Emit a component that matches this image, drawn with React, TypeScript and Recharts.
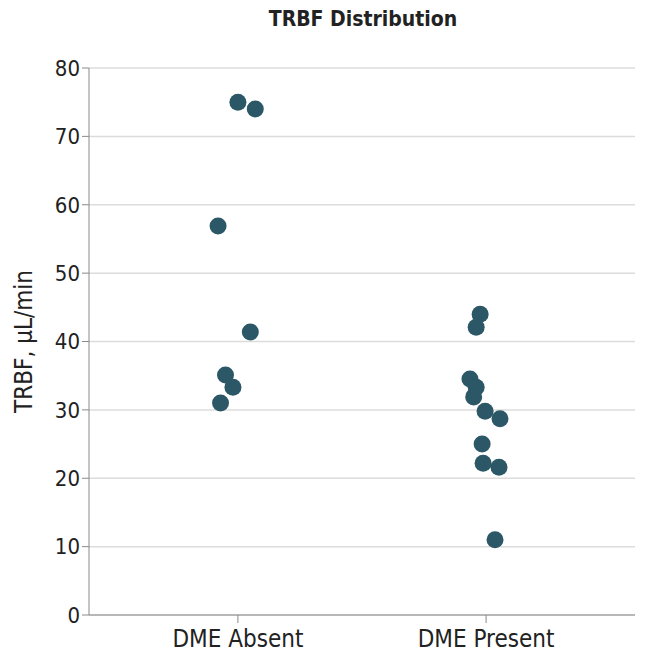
import { ScatterChart, Scatter, XAxis, YAxis, CartesianGrid } from 'recharts'

// group positions on the x axis (1 = DME Absent, 2 = DME Present), jitter
const GROUPS = ['DME Absent', 'DME Present']

const absentX = [1.0, 1.07, 0.92, 1.05, 0.95, 0.98, 0.93]
const absentY = [75.0, 74.0, 56.9, 41.4, 35.1, 33.3, 31.0]

const presentX = [1.976, 1.96, 1.935, 1.96, 1.95, 1.996, 2.056, 1.984, 1.988, 2.052, 2.036]
const presentY = [44.0, 42.1, 34.5, 33.3, 31.9, 29.8, 28.7, 25.0, 22.2, 21.6, 11.0]

const Y_TICKS = [0, 10, 20, 30, 40, 50, 60, 70, 80]

const DOT_COLOR = '#2c5766'
const FONT = '"DejaVu Sans Condensed", "Liberation Sans Narrow", "DejaVu Sans", sans-serif'

const toPoints = (xs: number[], ys: number[]) => xs.map((x, i) => ({ x, y: ys[i] }))

const data = [...toPoints(absentX, absentY), ...toPoints(presentX, presentY)]

const Dot = (p: any) => <circle cx={p.cx} cy={p.cy} r={8.5} fill={DOT_COLOR} />

export default function App() {
  return (
    <div style={{ position: 'absolute', left: 0, top: 0, width: 646, height: 663, background: '#fff' }}>
      <div
        style={{
          position: 'absolute', left: 0, top: 7, width: 726, textAlign: 'center',
          fontFamily: FONT, fontWeight: 'bold', fontSize: 21, color: '#222',
        }}
      >
        TRBF Distribution
      </div>
      <ScatterChart width={646} height={663} margin={{ top: 68, right: 11, bottom: 0, left: 0 }}>
        <CartesianGrid horizontal vertical={false} stroke="#dcdcdc" strokeWidth={1.5} />
        <XAxis
          type="number"
          dataKey="x"
          domain={[0.4, 2.6]}
          ticks={[1, 2]}
          tickFormatter={(v: number) => GROUPS[Math.round(v) - 1] ?? ''}
          height={48}
          stroke="#8a8a8a"
          tickSize={8}
          tick={{ fill: '#222', fontSize: 24, fontFamily: FONT, dy: 5 }}
        />
        <YAxis
          type="number"
          dataKey="y"
          domain={[0, 80]}
          ticks={Y_TICKS}
          width={89}
          stroke="#8a8a8a"
          tickSize={7}
          tick={{ fill: '#222', fontSize: 22, fontFamily: FONT }}
          label={{
            value: 'TRBF, µL/min', angle: -90, position: 'insideLeft', dx: 18,
            style: { textAnchor: 'middle', fill: '#222', fontSize: 24, fontFamily: FONT },
          }}
        />
        <Scatter data={data} fill={DOT_COLOR} shape={Dot} isAnimationActive={false} />
      </ScatterChart>
    </div>
  )
}
